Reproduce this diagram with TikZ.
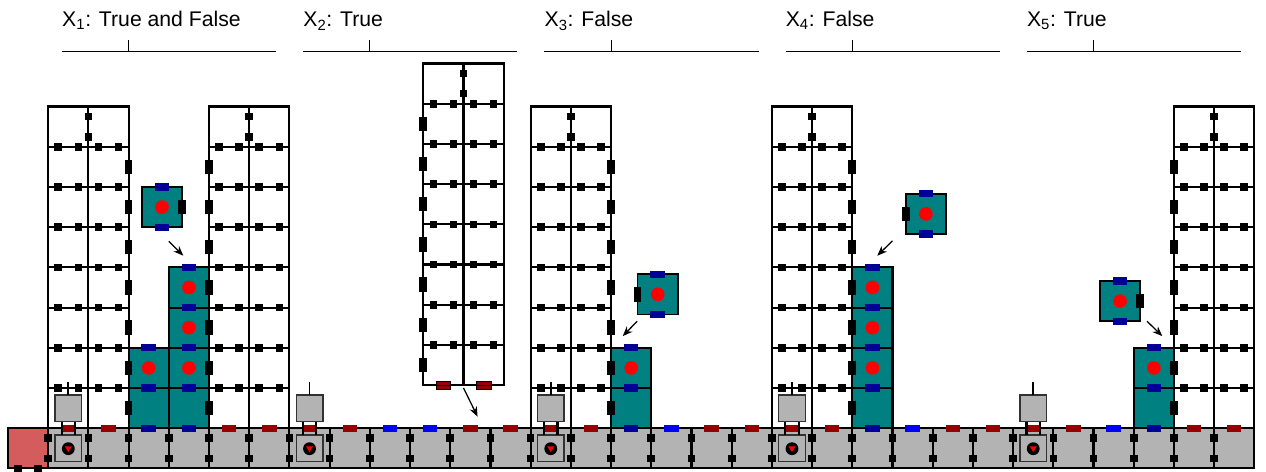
\documentclass[tikz,border=0pt]{standalone}
\usepackage{fontspec}
\setmainfont{Liberation Sans}
\usetikzlibrary{arrows.meta}
\definecolor{tealc}{RGB}{0,128,128}
\definecolor{navyc}{RGB}{0,0,150}
\definecolor{bluec}{RGB}{0,0,255}
\definecolor{dredc}{RGB}{150,0,0}
\definecolor{dotc}{RGB}{255,0,0}
\definecolor{stripc}{RGB}{179,179,179}
\definecolor{basec}{RGB}{212,92,92}
\definecolor{robc}{RGB}{50,50,50}

\tikzset{
  gl/.style={line width=1.5pt},
  tealcell/.style={fill=tealc, draw=black, line width=1.5pt},
  floatcell/.style={fill=tealc, draw=black, line width=1.2pt},
  robline/.style={draw=robc, line width=1pt},
  arr/.style={-{Stealth[length=7pt,width=5.5pt]}, line width=0.9pt},
  rule/.style={line width=0.7pt},
  lab/.style={font=\fontsize{15pt}{18pt}\selectfont, inner sep=0pt, anchor=base west},
  pics/sqr/.style={code={\fill[black] (-0.095,-0.095) rectangle (0.095,0.095);}},
  pics/vrect/.style={code={\fill[black] (-0.095,-0.18) rectangle (0.095,0.18);}},
  pics/hrect/.style={code={\fill[fill=#1] (-0.18,-0.09) rectangle (0.18,0.09);}},
  % a two-column tower of eight rows; #1 = x offset of the edge carrying the bars
  pics/tower/.style={code={
    \draw[gl] (0,0) rectangle (2,8);
    \draw[gl] (1,0) -- (1,8);
    \foreach \k in {1,...,7} {
      \draw[gl] (0,\k) -- (2,\k);
      \foreach \d in {0.25,0.75,1.25,1.75} \pic at (\d,\k) {sqr};
    }
    \pic at (1,7.25) {sqr};
    \pic at (1,7.75) {sqr};
    \foreach \k in {0,...,6} \pic at (#1,\k+0.5) {vrect};
  }},
  % the two-part gray unit standing on the base strip
  pics/robot/.style={code={
    \draw[robline, fill=stripc] (0.17,0.17) rectangle (0.83,0.83);
    \fill[black] (0.5,0.49) circle (0.16);
    \fill[dotc] (0.415,0.545) -- (0.585,0.545) -- (0.5,0.405) -- cycle;
    \draw[gl] (0.333,0.83) -- (0.333,1.17) (0.667,0.83) -- (0.667,1.17);
    \draw[robline, fill=stripc] (0.17,1.17) rectangle (0.83,1.83);
    \draw[line width=1.2pt] (0.5,1.83) -- (0.5,2.15);
  }},
  % a loose teal block; #1 = x offset of its black side bar
  pics/floatblk/.style={code={
    \draw[floatcell] (0,0) rectangle (1,1);
    \fill[dotc] (0.5,0.5) circle (0.17);
    \pic at (0.5,1) {hrect=navyc};
    \pic at (0.5,0) {hrect=navyc};
    \pic at (#1,0.5) {vrect};
  }},
}

\begin{document}
\begin{tikzpicture}[x=1cm,y=1cm]
\useasboundingbox (-0.199,-0.067) rectangle (31.29,11.65);

% base strip
\fill[stripc] (1,0) rectangle (31,1);
\fill[basec] (0,0) rectangle (1,1);
\draw[gl] (0,0) rectangle (31,1);
\foreach \i in {1,...,30} {
  \draw[gl] (\i,0) -- (\i,1);
  \pic at (\i,0.25) {sqr};
  \pic at (\i,0.75) {sqr};
}
\pic at (0.25,0) {sqr};
\pic at (0.75,0) {sqr};

% teal columns
\foreach \x/\y in {3/1,3/2,4/1,4/2,4/3,4/4,15/1,15/2,21/1,21/2,21/3,21/4,28/1,28/2}
  \draw[tealcell] (\x,\y) rectangle ++(1,1);

% towers
\pic at (1,1) {tower=2};
\pic at (5,1) {tower=0};
\pic at (13,1) {tower=2};
\pic at (19,1) {tower=2};
\pic at (29,1) {tower=0};
\pic at (10.33,2.07) {tower=0};

% bars and dots on the teal columns
\foreach \x/\y in {3.5/2,3.5/3,4.5/2,4.5/3,4.5/4,4.5/5,15.5/2,15.5/3,21.5/2,21.5/3,21.5/4,21.5/5,28.5/2,28.5/3}
  \pic at (\x,\y) {hrect=navyc};
\foreach \x/\y in {3.5/2.5,4.5/2.5,4.5/3.5,4.5/4.5,15.5/2.5,21.5/2.5,21.5/3.5,21.5/4.5,28.5/2.5}
  \fill[dotc] (\x,\y) circle (0.17);

% bars along the top of the base strip
\foreach \c/\col in {1/dredc,2/dredc,3/navyc,4/navyc,5/dredc,6/dredc,
                     7/dredc,8/dredc,9/bluec,10/bluec,11/dredc,12/dredc,
                     13/dredc,14/dredc,15/navyc,16/bluec,17/dredc,18/dredc,
                     19/dredc,20/dredc,21/navyc,22/bluec,23/dredc,24/dredc,
                     25/dredc,26/dredc,27/bluec,28/navyc,29/dredc,30/dredc}
  \pic at (\c+0.5,1) {hrect=\col};

% bars under the hanging tower
\foreach \x in {10.83,11.83} {
  \draw[fill=dredc, line width=0.4pt] (\x-0.18,2.07-0.09) rectangle (\x+0.18,2.07+0.09);
}
\draw[line width=0.6pt] (10.33,2.07) -- (12.33,2.07);

% gray units
\foreach \p in {1,7,13,19,25} \pic at (\p,0) {robot};

% loose blocks
\pic at (3.33,6.0) {floatblk=1};
\pic at (15.66,3.83) {floatblk=0};
\pic at (22.33,5.83) {floatblk=0};
\pic at (27.16,3.66) {floatblk=1};

% arrows
\coordinate (a1s) at (4.0,5.65);   \coordinate (a1e) at (4.36,5.29);
\coordinate (a2s) at (11.33,2.0);  \coordinate (a2e) at (11.68,1.285);
\coordinate (a3s) at (15.65,3.66); \coordinate (a3e) at (15.29,3.29);
\coordinate (a4s) at (22.0,5.66);  \coordinate (a4e) at (21.62,5.29);
\coordinate (a5s) at (28.33,3.66); \coordinate (a5e) at (28.71,3.29);
\foreach \n in {1,...,5} \draw[arr] (a\n s) -- (a\n e);

% headings
\foreach \p/\n/\t in {1/1/True and False,7/2/True,13/3/False,19/4/False,25/5/True} {
  \node[lab] (lab\n) at (\p+0.34,10.985) {X\textsubscript{\n}: \t};
  \draw[rule] (\p+0.34,10.38) -- (\p+5.67,10.38);
  \draw[rule] (\p+2,10.38) -- (\p+2,10.66);
}
\end{tikzpicture}
\end{document}
